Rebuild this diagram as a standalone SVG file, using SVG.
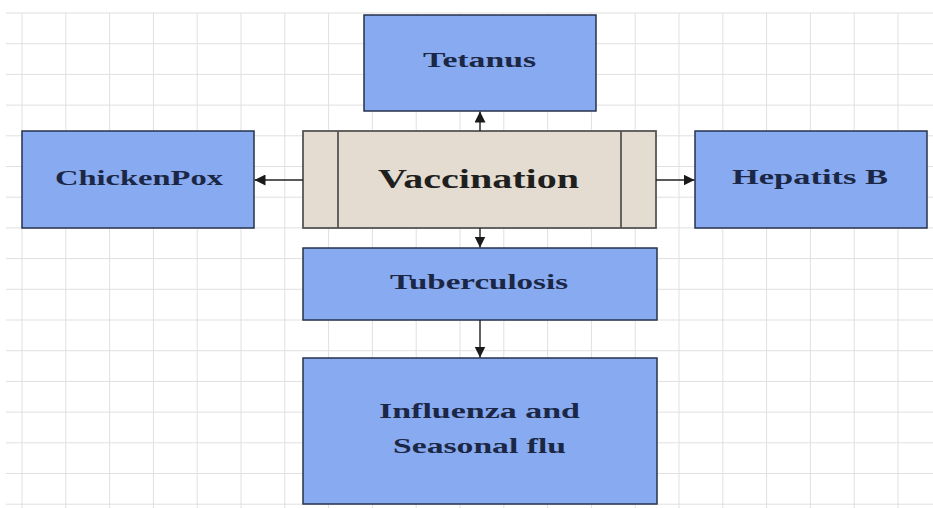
<svg xmlns="http://www.w3.org/2000/svg" width="933" height="508" viewBox="0 0 933 508">
<style>
.grid line{stroke:#e0e0e0;stroke-width:1}
.box{fill:#87aaf1;stroke:#27324d;stroke-width:1.5}
.main{fill:#e4dcd0;stroke:#555555;stroke-width:1.8}
.lbl{font-family:"Liberation Serif","Times New Roman",serif;font-weight:bold;font-size:22px;fill:#1b2745}
.big{font-family:"Liberation Serif","Times New Roman",serif;font-weight:bold;font-size:27px;fill:#1f1f1f}
.conn line{stroke:#222222;stroke-width:1.4;marker-end:url(#arr)}
</style>
<defs>
<marker id="arr" viewBox="0 0 10 10" refX="10" refY="5" markerWidth="11" markerHeight="11" markerUnits="userSpaceOnUse" orient="auto">
<path d="M0,0 L10,5 L0,10 z" fill="#1a1a1a"/>
</marker>
</defs>
<rect width="933" height="508" fill="#ffffff"/>
<g class="grid">
<line x1="6" y1="13" x2="933" y2="13"/>
<line x1="6" y1="43.7" x2="933" y2="43.7"/>
<line x1="6" y1="74.4" x2="933" y2="74.4"/>
<line x1="6" y1="105.1" x2="933" y2="105.1"/>
<line x1="6" y1="135.8" x2="933" y2="135.8"/>
<line x1="6" y1="166.5" x2="933" y2="166.5"/>
<line x1="6" y1="197.2" x2="933" y2="197.2"/>
<line x1="6" y1="227.9" x2="933" y2="227.9"/>
<line x1="6" y1="258.6" x2="933" y2="258.6"/>
<line x1="6" y1="289.3" x2="933" y2="289.3"/>
<line x1="6" y1="320" x2="933" y2="320"/>
<line x1="6" y1="350.7" x2="933" y2="350.7"/>
<line x1="6" y1="381.4" x2="933" y2="381.4"/>
<line x1="6" y1="412.1" x2="933" y2="412.1"/>
<line x1="6" y1="442.8" x2="933" y2="442.8"/>
<line x1="6" y1="473.5" x2="933" y2="473.5"/>
<line x1="6" y1="504.2" x2="933" y2="504.2"/>
<line x1="22" y1="13" x2="22" y2="508"/>
<line x1="65.8" y1="13" x2="65.8" y2="508"/>
<line x1="109.6" y1="13" x2="109.6" y2="508"/>
<line x1="153.4" y1="13" x2="153.4" y2="508"/>
<line x1="197.2" y1="13" x2="197.2" y2="508"/>
<line x1="241" y1="13" x2="241" y2="508"/>
<line x1="284.8" y1="13" x2="284.8" y2="508"/>
<line x1="328.6" y1="13" x2="328.6" y2="508"/>
<line x1="372.4" y1="13" x2="372.4" y2="508"/>
<line x1="416.2" y1="13" x2="416.2" y2="508"/>
<line x1="460" y1="13" x2="460" y2="508"/>
<line x1="503.8" y1="13" x2="503.8" y2="508"/>
<line x1="547.6" y1="13" x2="547.6" y2="508"/>
<line x1="591.4" y1="13" x2="591.4" y2="508"/>
<line x1="635.2" y1="13" x2="635.2" y2="508"/>
<line x1="679" y1="13" x2="679" y2="508"/>
<line x1="722.8" y1="13" x2="722.8" y2="508"/>
<line x1="766.6" y1="13" x2="766.6" y2="508"/>
<line x1="810.4" y1="13" x2="810.4" y2="508"/>
<line x1="854.2" y1="13" x2="854.2" y2="508"/>
<line x1="898" y1="13" x2="898" y2="508"/>
</g>
<g id="tetanus">
<rect class="box" x="364" y="15" width="232" height="96"/>
<text class="lbl" x="423" y="67" textLength="113" lengthAdjust="spacingAndGlyphs">Tetanus</text>
</g>
<g id="vaccination">
<rect class="main" x="303" y="131" width="353" height="97"/>
<line x1="338" y1="131" x2="338" y2="228" stroke="#555555" stroke-width="1.8"/>
<line x1="621" y1="131" x2="621" y2="228" stroke="#555555" stroke-width="1.8"/>
<text class="big" x="378" y="188" textLength="201" lengthAdjust="spacingAndGlyphs">Vaccination</text>
</g>
<g id="chickenpox">
<rect class="box" x="22" y="131" width="232" height="97"/>
<text class="lbl" x="55" y="185" textLength="168" lengthAdjust="spacingAndGlyphs">ChickenPox</text>
</g>
<g id="hepatitisb">
<rect class="box" x="695" y="131" width="232" height="97"/>
<text class="lbl" x="732" y="184" textLength="156" lengthAdjust="spacingAndGlyphs">Hepatits B</text>
</g>
<g id="tuberculosis">
<rect class="box" x="303" y="248" width="354" height="72"/>
<text class="lbl" x="390" y="289" textLength="178" lengthAdjust="spacingAndGlyphs">Tuberculosis</text>
</g>
<g id="influenza">
<rect class="box" x="303" y="358" width="354" height="146"/>
<text class="lbl" x="379" y="418" textLength="201" lengthAdjust="spacingAndGlyphs">Influenza and</text>
<text class="lbl" x="393" y="453" textLength="173" lengthAdjust="spacingAndGlyphs">Seasonal flu</text>
</g>
<g class="conn">
<line x1="480" y1="131" x2="480" y2="111.5"/>
<line x1="303" y1="180" x2="254.5" y2="180"/>
<line x1="656" y1="180" x2="694.5" y2="180"/>
<line x1="480" y1="228" x2="480" y2="247.5"/>
<line x1="480" y1="320" x2="480" y2="357.5"/>
</g>
</svg>
